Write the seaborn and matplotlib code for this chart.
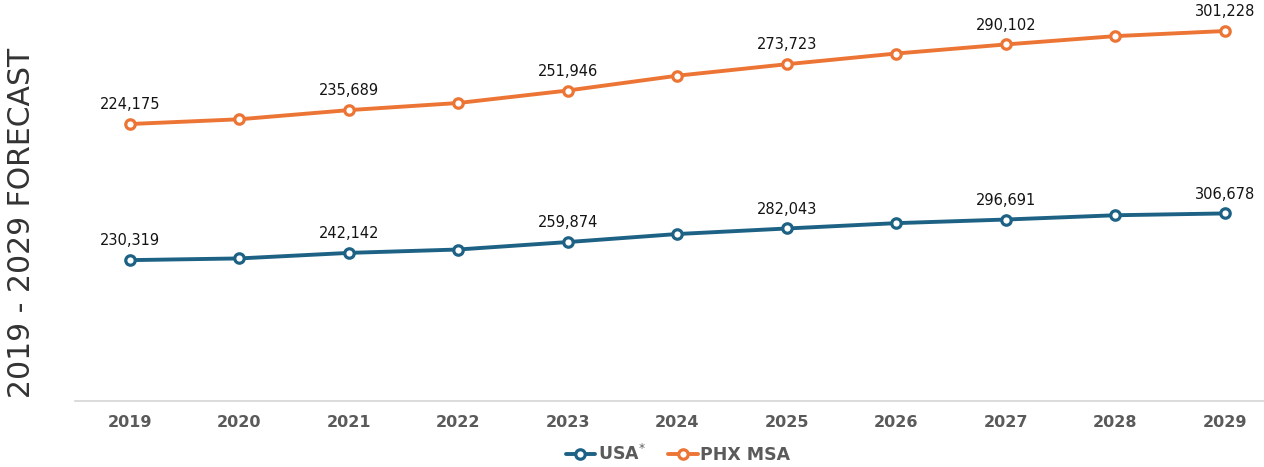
import numpy as np
import matplotlib
matplotlib.use("Agg")
import matplotlib.pyplot as plt
import seaborn as sns

# datos (los anos sin etiqueta son estimados)
years = [2019, 2020, 2021, 2022, 2023, 2024, 2025, 2026, 2027, 2028, 2029]
usa = [230319, 233100, 242142, 247700, 259874, 273000, 282043, 290800, 296691, 303700, 306678]
phx = [224175, 228100, 235689, 241600, 251946, 264200, 273723, 282600, 290102, 297000, 301228]
labeled_years = [2019, 2021, 2023, 2025, 2027, 2029]

blue = '#1d6285'
orange = '#ec7535'

sns.set_style('white')
plt.rcParams['font.family'] = ['DejaVu Sans']

W, H = 1264, 467
fig = plt.figure(figsize=(W / 100, H / 100), dpi=100)
# ejes: borde izquierdo en x=75px, linea base en y=401px
ax = fig.add_axes([75 / W, 1 - 401 / H, 1204.5 / W, 400 / H])
ax2 = ax.twinx()

style = dict(marker='o', markersize=6.8, markerfacecolor='white',
             markeredgewidth=2.3, linewidth=2.8, clip_on=False)
sns.lineplot(x=years, y=usa, ax=ax, color=blue, markeredgecolor=blue,
             label='USA$^{*}$', legend=False, **style)
sns.lineplot(x=years, y=phx, ax=ax2, color=orange, markeredgecolor=orange,
             label='PHX MSA', legend=False, **style)

ax.set_xlim(2018.5, 2029.5)
ax.set_ylim(0, 654000)
ax2.set_ylim(-5300, 326100)

# etiquetas de valor
for a, vals in [(ax, usa), (ax2, phx)]:
    for yr, v in zip(years, vals):
        if yr in labeled_years:
            a.annotate(f'{v:,}', (yr, v), xytext=(0, 8.5), textcoords='offset points',
                       ha='center', va='bottom', fontsize=10.5, color='#141414')

# eje x
ax.set_xticks(years)
ax.set_xticklabels([str(y) for y in years], fontsize=11.5, fontweight='bold', color='#5a5a5a')
ax.set_xticks(np.arange(2018.5, 2030, 1), minor=True)
ax.tick_params(axis='x', which='major', length=0, pad=10)
ax.tick_params(axis='x', which='minor', length=4, width=1, color='#d6d6d6', direction='out')
ax.set_yticks([])
ax2.set_yticks([])
for s in ['top', 'right', 'left']:
    ax.spines[s].set_visible(False)
for s in ax2.spines.values():
    s.set_visible(False)
ax.spines['bottom'].set_color('#d6d6d6')
ax.spines['bottom'].set_linewidth(1.2)
ax.set_xlabel('')

fig.text(22 / W, 1 - 223 / H, '2019 - 2029 FORECAST', rotation=90, ha='center',
         va='center', fontsize=21.5, color='#333333')

handles = ax.get_lines()[:1] + ax2.get_lines()[:1]
leg = fig.legend(handles, ['USA$^{*}$', 'PHX MSA'], loc='center',
                 bbox_to_anchor=(678 / W, 1 - 454 / H), ncol=2, frameon=False,
                 handlelength=1.7, handletextpad=0.15, columnspacing=1.3,
                 prop={'weight': 'bold', 'size': 12.5})
for t in leg.get_texts():
    t.set_color('#5a5a5a')

fig.savefig('out.png', dpi=100)
